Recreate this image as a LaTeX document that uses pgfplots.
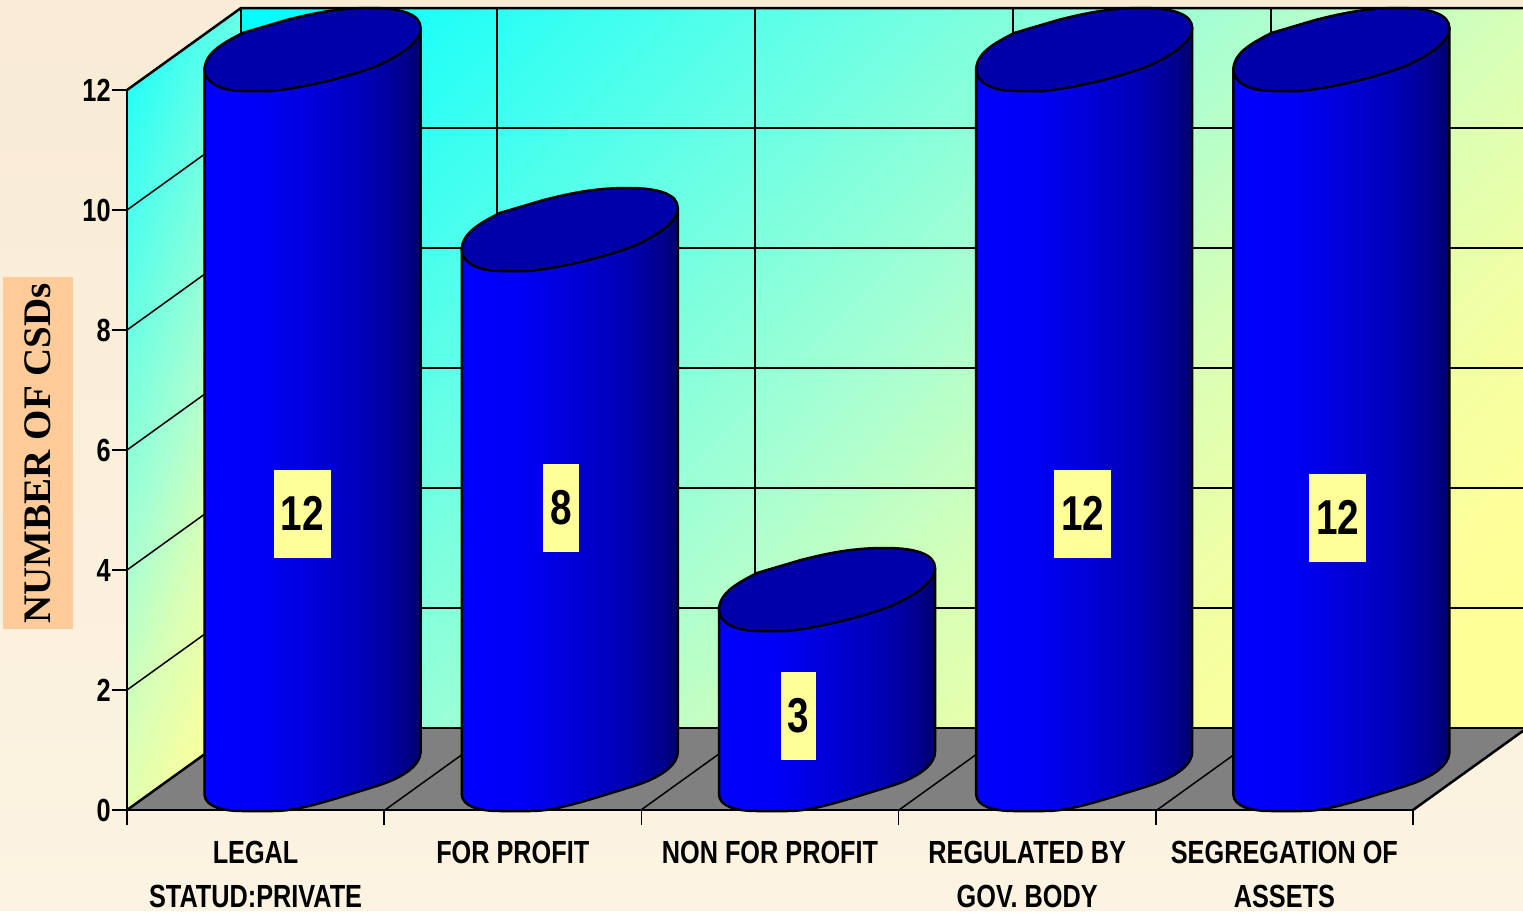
\documentclass[border=0pt]{standalone}
\usepackage{pgfplots}
\usepackage{pgfplotstable}
\usepackage{fontspec}
\pgfplotsset{compat=1.18}
\newfontfamily\narrowfont[FakeStretch=0.79]{Liberation Sans}
\newfontfamily\serifbold{Liberation Serif}

\definecolor{papertop}{RGB}{249,235,213}
\definecolor{paperbot}{RGB}{252,243,226}
\definecolor{peach}{RGB}{255,204,153}
\definecolor{labelbox}{RGB}{255,255,153}
\definecolor{cyltop}{RGB}{0,0,170}
\definecolor{floorgray}{RGB}{128,128,128}

% walls run cyan -> pale green -> yellow along the diagonal
\pgfdeclareverticalshading{wall}{100bp}{
  rgb(0bp)=(1,1,.59);
  rgb(14bp)=(1,1,.59);
  rgb(22bp)=(1,1,.60);
  rgb(30bp)=(.95,1,.64);
  rgb(40bp)=(.84,1,.72);
  rgb(50bp)=(.66,1,.82);
  rgb(68bp)=(.33,1,.92);
  rgb(85bp)=(0,1,1);
  rgb(100bp)=(0,1,1)}
\pgfdeclarehorizontalshading{cylbody}{100bp}{
  rgb(0bp)=(0,0,1);
  rgb(25bp)=(0,0,1);
  rgb(38bp)=(0,0,.97);
  rgb(50bp)=(0,0,.85);
  rgb(62bp)=(0,0,.72);
  rgb(70bp)=(0,0,.58);
  rgb(75bp)=(0,0,.43);
  rgb(100bp)=(0,0,.43)}

% x = category centre, height = drawn height, label = printed value,
% dx/dy = label box offset from the bar's top front point, in image pixels
\pgfplotstableread{
x   height label dx   dy
0.5 12     12    46.5 -424
1.5 9      8     48   -238
2.5 3      3     28.5 -86
3.5 12     12    55.5 -424
4.5 12     12    53.5 -428
}\csdtable

\begin{document}
\begin{tikzpicture}
\begin{scope}[x=.5pt,y=-.5pt]
  \path[use as bounding box] (0,0) rectangle (1523,910);
  \shade[top color=papertop,bottom color=paperbot] (0,0) rectangle (1523,910);
  \clip (0,0) rectangle (1523,910);
  % left wall, back wall, floor
  \shade[shading=wall,shading angle=70] (127,90) -- (241,8) -- (241,728) -- (127,810) -- cycle;
  \shade[shading=wall,shading angle=45] (241,8) rectangle (1527,728);
  \fill[floorgray] (127,810) -- (241,728) -- (1527,728) -- (1413,810) -- cycle;
  % grid on walls and floor
  \foreach \yy in {128,248,368,488,608}
    \draw[line width=.75pt] (241,\yy) -- (1527,\yy);
  \foreach \xx in {497,755,1013,1271}
    \draw[line width=.75pt] (\xx,8) -- (\xx,728);
  \foreach \yy in {210,330,450,570,690}
    \draw[line width=.75pt] (127,\yy) -- (241,\yy-82);
  \foreach \xx in {385,641,899,1157}
    \draw[line width=.75pt] (\xx,810) -- (\xx+114,728);
  \draw[line width=1.25pt,line join=round] (127,90) -- (241,8) -- (1527,8);
  \draw[line width=1.25pt] (241,8) -- (241,728) -- (1527,728);
  \draw[line width=1.25pt] (127,810) -- (241,728);
  \draw[line width=1.25pt] (1413,810) -- (1527,728);
\end{scope}

\begin{axis}[
  at={(63.5pt,-405pt)}, anchor=south west,
  scale only axis, width=643pt, height=360pt,
  xmin=0, xmax=5, ymin=0, ymax=12,
  clip=false,
  axis lines=left,
  axis line style={-,line width=1.25pt},
  tick align=outside,
  major tick length=7.5pt, minor tick length=7.5pt,
  tick style={black,line width=.75pt},
  major x tick style={draw=none},
  xtick={0.5,1.5,2.5,3.5,4.5},
  minor xtick={0,1,2,3,4,5},
  xticklabels={LEGAL\\STATUD:PRIVATE,FOR PROFIT,NON FOR PROFIT,REGULATED BY\\GOV. BODY,SEGREGATION OF\\ASSETS},
  ytick={0,2,...,12},
  /pgf/number format/assume math mode=true,
  ticklabel style={font=\narrowfont\bfseries\fontsize{16pt}{22pt}\selectfont},
  xticklabel style={align=center,anchor=north,yshift=-4.5pt,text depth=0pt},
  yticklabel style={anchor=east,xshift=.5pt,inner xsep=1pt},
  ylabel={NUMBER OF CSDs},
  ylabel style={at={(axis description cs:-0.0692,0.4955)},anchor=center,
    font=\serifbold\bfseries\fontsize{19.5pt}{20pt}\selectfont,
    fill=peach,minimum width=176pt,minimum height=35pt,inner sep=0pt},
]
\addplot[
  only marks, mark=*, mark size=0pt, mark options={draw=none,fill=none},
  scatter, scatter src=y,
  visualization depends on={\thisrow{height}\as\vh},
  visualization depends on={\thisrow{label}\as\vl},
  visualization depends on={\thisrow{dx}\as\ldx},
  visualization depends on={\thisrow{dy}\as\ldy},
  scatter/@pre marker code/.code={%
    \begin{scope}[x=.5pt,y=.5pt,line join=round]
      \pgfmathsetmacro\h{\vh*60}
      % outline follows the reference's slightly squared ellipse
      \shadedraw[shading=cylbody,draw=black,line width=1.25pt]
        (-51,22) -- (-51,{15-\h})
        .. controls (-50,{4-\h}) and (-35,{-1-\h}) .. (-13,{-1-\h})
        -- (17,{-1-\h})
        .. controls (40,{-1-\h}) and (60,{5-\h}) .. (121,{24-\h})
        .. controls (150,{33-\h}) and (165,{46-\h}) .. (165,{58-\h})
        -- (165,62) -- cycle;
      \filldraw[fill=cyltop,draw=black,line width=1.25pt]
        (-51,20)
        .. controls (-51,38) and (-30,48) .. (-13,57)
        -- (31,70)
        .. controls (55,76) and (80,82) .. (115,82)
        .. controls (148,82) and (165,75) .. (165,62)
        .. controls (165,50) and (150,37) .. (121,24)
        .. controls (100,16) and (60,4) .. (17,-1)
        -- (-13,-1)
        .. controls (-35,-1) and (-51,8) .. (-51,20) -- cycle;
      \node[fill=labelbox,inner xsep=3.5pt,inner ysep=0pt,minimum height=44pt,
        font=\narrowfont\bfseries\fontsize{24.5pt}{26pt}\selectfont]
        at (\ldx,\ldy) {\raisebox{1pt}{\pgfmathprintnumber{\vl}}};
    \end{scope}},
  scatter/@post marker code/.code={},
] table[x=x,y=height] {\csdtable};
\end{axis}
\end{tikzpicture}
\end{document}
